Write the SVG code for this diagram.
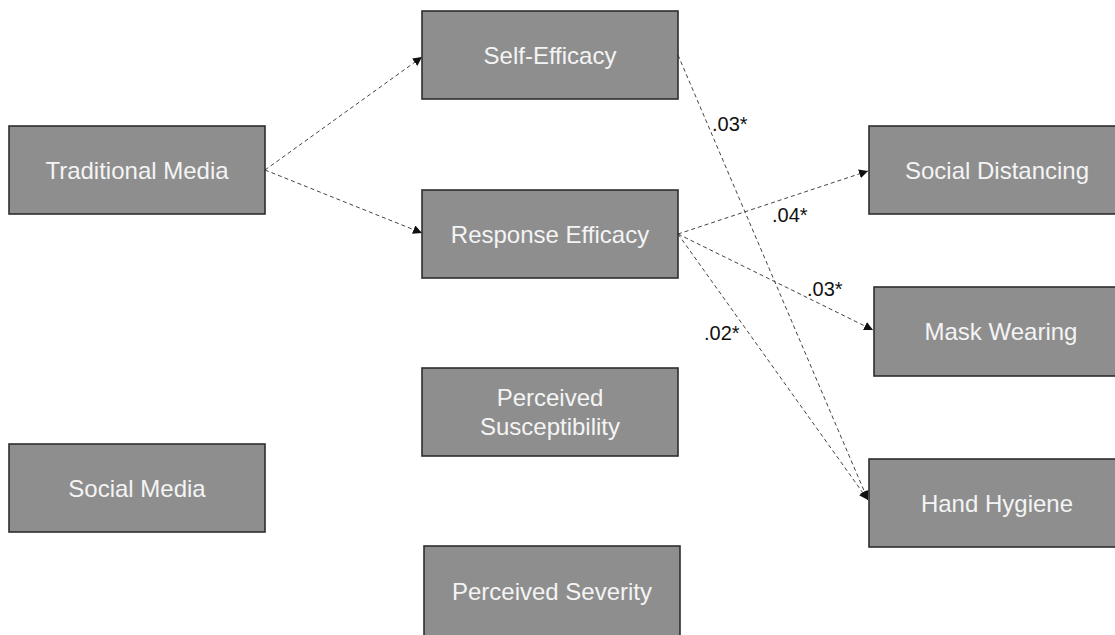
<svg xmlns="http://www.w3.org/2000/svg" width="1115" height="635" viewBox="0 0 1115 635">
<defs>
<marker id="arr" viewBox="0 0 10 10" refX="10" refY="5" markerWidth="9" markerHeight="9" markerUnits="userSpaceOnUse" orient="auto">
<path d="M0,0 L10,5 L0,10 z" fill="#111"/>
</marker>
</defs>
<style>
.box{fill:#8e8e8e;stroke:#2e2e2e;stroke-width:1.6}
.t{font-family:"Liberation Sans",Arial,sans-serif;font-size:24px;fill:#f4f4f4;text-anchor:middle}
.c{fill:none;stroke:#444;stroke-width:1;stroke-dasharray:4 3;marker-end:url(#arr)}
.lb{font-family:"Liberation Sans",Arial,sans-serif;font-size:20px;fill:#111}
</style>
<rect width="1115" height="635" fill="#fff"/>
<g id="connectors">
<line class="c" x1="265" y1="170" x2="422" y2="57"/>
<line class="c" x1="265" y1="170" x2="422" y2="233"/>
<line class="c" x1="678" y1="55" x2="868" y2="500"/>
<line class="c" x1="678" y1="234" x2="868" y2="171"/>
<line class="c" x1="678" y1="234" x2="873" y2="330"/>
<line class="c" x1="678" y1="234" x2="868" y2="500"/>
<text class="lb" x="712" y="131">.03*</text>
<text class="lb" x="772" y="222">.04*</text>
<text class="lb" x="807" y="296">.03*</text>
<text class="lb" x="704" y="340">.02*</text>
</g>
<g id="traditional-media"><rect class="box" x="9" y="126" width="256" height="88"/><text class="t" x="137" y="179">Traditional Media</text></g>
<g id="social-media"><rect class="box" x="9" y="444" width="256" height="88"/><text class="t" x="137" y="497">Social Media</text></g>
<g id="self-efficacy"><rect class="box" x="422" y="11" width="256" height="88"/><text class="t" x="550" y="64">Self-Efficacy</text></g>
<g id="response-efficacy"><rect class="box" x="422" y="190" width="256" height="88"/><text class="t" x="550" y="243">Response Efficacy</text></g>
<g id="perceived-susceptibility"><rect class="box" x="422" y="368" width="256" height="88"/><text class="t" x="550" y="406">Perceived</text><text class="t" x="550" y="435">Susceptibility</text></g>
<g id="perceived-severity"><rect class="box" x="424" y="546" width="256" height="94"/><text class="t" x="552" y="600">Perceived Severity</text></g>
<g id="social-distancing"><rect class="box" x="869" y="126" width="258" height="88"/><text class="t" x="997" y="179">Social Distancing</text></g>
<g id="mask-wearing"><rect class="box" x="874" y="287" width="256" height="89"/><text class="t" x="1001" y="340">Mask Wearing</text></g>
<g id="hand-hygiene"><rect class="box" x="869" y="459" width="258" height="88"/><text class="t" x="997" y="512">Hand Hygiene</text></g>
</svg>
